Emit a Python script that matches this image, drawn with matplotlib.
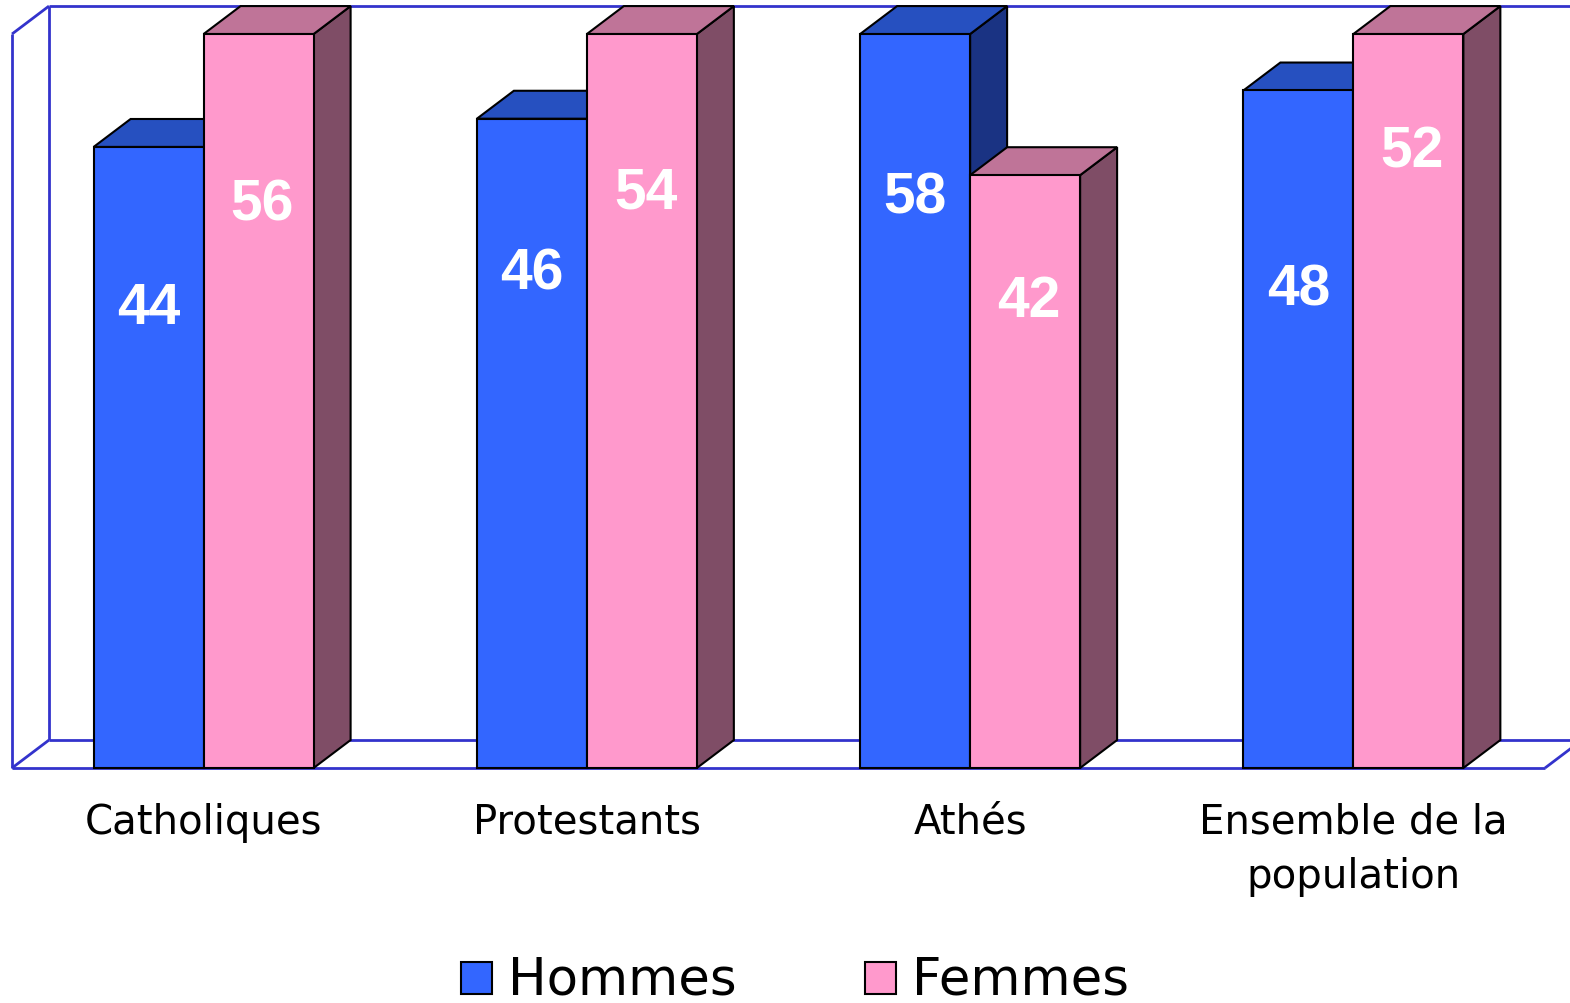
import matplotlib
matplotlib.use("Agg")
import matplotlib.pyplot as plt
from matplotlib.patches import Polygon, Rectangle

categories = ["Catholiques", "Protestants", "Athés", "Ensemble de la\npopulation"]
hommes = [44, 46, 58, 48]
femmes = [56, 54, 42, 52]
series_names = ["Hommes", "Femmes"]

# hauteur (en unités de l'axe) où sont posées les étiquettes de valeur
label_pos_hommes = [32.6, 35.0, 40.4, 33.9]
label_pos_femmes = [39.9, 40.8, 33.1, 43.7]

YMAX = 52          # les barres plus hautes sont coupées au plafond
BAR_W = 0.287      # largeur d'une barre (fraction du groupe)
DX, DY = 0.0965, 1.98   # profondeur de l'effet 3D

front = {"Hommes": "#3366FF", "Femmes": "#FF99CC"}
top = {"Hommes": "#2650C0", "Femmes": "#BF7498"}
side = {"Hommes": "#1A3383", "Femmes": "#7F4D66"}
WALL = "#3333CC"

fig = plt.figure(figsize=(15.7, 10.04), dpi=100)
ax = fig.add_axes([0, 0, 1, 1])
ax.set_xlim(-12 / 383.25, 1558 / 383.25)
ax.set_ylim(-235 / 14.115, 769 / 14.115)
ax.axis("off")

n = len(categories)

# murs et sol
wall_lines = [
    ([DX, DX], [DY, YMAX + DY]),
    ([DX, n + 1], [YMAX + DY, YMAX + DY]),
    ([0, 0], [0, YMAX]),
    ([0, DX], [YMAX, YMAX + DY]),
    ([0, DX], [0, DY]),
    ([DX, n + DX], [DY, DY]),
    ([0, n], [0, 0]),
    ([n, n + DX], [0, DY]),
]
for xs, ys in wall_lines:
    ax.plot(xs, ys, color=WALL, lw=2, zorder=1, solid_capstyle="butt")


def bar3d(x0, h, name):
    h = min(h, YMAX)
    kw = dict(ec="black", lw=1.5, joinstyle="miter", zorder=2)
    ax.add_patch(Polygon([(x0 + BAR_W, 0), (x0 + BAR_W + DX, DY),
                          (x0 + BAR_W + DX, h + DY), (x0 + BAR_W, h)],
                         fc=side[name], **kw))
    ax.add_patch(Polygon([(x0, h), (x0 + BAR_W, h),
                          (x0 + BAR_W + DX, h + DY), (x0 + DX, h + DY)],
                         fc=top[name], **kw))
    ax.add_patch(Rectangle((x0, 0), BAR_W, h, fc=front[name], **kw))


for i in range(n):
    c = i + 0.5
    bar3d(c - BAR_W, hommes[i], "Hommes")
    bar3d(c, femmes[i], "Femmes")
    ax.text(c - BAR_W / 2, label_pos_hommes[i], str(hommes[i]), color="white",
            fontsize=41, fontweight="bold", family="Liberation Sans",
            ha="center", va="center", zorder=5)
    ax.text(c + BAR_W / 2 + 0.01, label_pos_femmes[i], str(femmes[i]), color="white",
            fontsize=41, fontweight="bold", family="Liberation Sans",
            ha="center", va="center", zorder=5)
    ax.text(c, -2.4, categories[i], fontsize=29, family="DejaVu Sans",
            ha="center", va="top", linespacing=1.45)

# légende
leg_x = [461, 865]
for k, name in enumerate(series_names):
    x = leg_x[k] / 1570
    fig.patches.append(Rectangle((x, 9 / 1004), 31 / 1570, 32 / 1004,
                                 transform=fig.transFigure, fc=front[name],
                                 ec="black", lw=1.5))
    fig.text(x + 47 / 1570, 23 / 1004, name, fontsize=37, family="DejaVu Sans",
             ha="left", va="center")

fig.savefig("out.png", dpi=100)
